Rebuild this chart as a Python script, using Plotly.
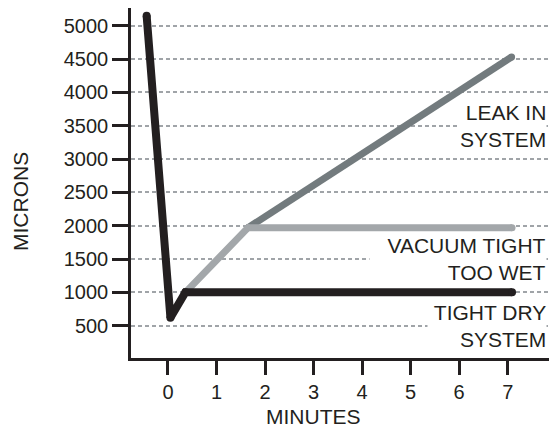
import plotly.graph_objects as go

# Pump-down curves: minutes vs microns
DRY_X = [-0.44, 0.05, 0.36, 7.09]
DRY_Y = [5150, 620, 1000, 1000]

WET_X = [0.36, 1.65, 7.09]
WET_Y = [1000, 1970, 1970]

LEAK_X = [1.65, 7.08]
LEAK_Y = [1970, 4530]

X_TICKS = [0, 1, 2, 3, 4, 5, 6, 7]
Y_TICKS = [500, 1000, 1500, 2000, 2500, 3000, 3500, 4000, 4500, 5000]

LABELS = [("LEAK IN", "SYSTEM"), ("VACUUM TIGHT", "TOO WET"), ("TIGHT DRY", "SYSTEM")]
LABEL_Y = [3500, 1500, 500]
# extra blank room on the left of each label box (hides the grid a bit further)
LABEL_PAD = [1, 3, 1]

INK = "#231f20"
FONT = "Liberation Sans, Arial, sans-serif"

fig = go.Figure()

# dark gray first, light gray over it, black on top
for xs, ys, color, width in [
    (LEAK_X, LEAK_Y, "#737b7e", 7),
    (WET_X, WET_Y, "#a3a7aa", 7),
    (DRY_X, DRY_Y, INK, 8),
]:
    fig.add_trace(go.Scatter(
        x=xs, y=ys, mode="lines+markers",
        line=dict(color=color, width=width),
        marker=dict(color=color, size=width, line=dict(width=0)),
        hoverinfo="skip", showlegend=False,
    ))

nbsp = "\u00a0"
for (top, bottom), y, pad in zip(LABELS, LABEL_Y, LABEL_PAD):
    if len(top) >= len(bottom):
        top = nbsp * pad + top
    else:
        bottom = nbsp * pad + bottom
    fig.add_annotation(
        text=top + "<br>" + bottom, x=1, xref="paper", y=y, yref="y",
        xanchor="right", yanchor="middle", align="right",
        showarrow=False, bgcolor="white", borderpad=0,
        xshift=-10, font=dict(size=21, color=INK, family=FONT),
    )

fig.add_annotation(text="MICRONS", x=-0.258, xref="paper", y=0.446, yref="paper",
                   xanchor="center", yanchor="middle", showarrow=False,
                   textangle=-90, font=dict(size=21, color=INK, family=FONT))
fig.add_annotation(text="MINUTES", x=3, xref="x", y=-0.167, yref="paper",
                   xanchor="center", yanchor="middle", showarrow=False,
                   font=dict(size=21, color=INK, family=FONT))

fig.update_xaxes(
    range=[-0.762, 8.016], tickvals=X_TICKS, showgrid=False, zeroline=False,
    showline=True, linecolor=INK, linewidth=2.5,
    ticks="outside", ticklen=14, tickwidth=2.5, tickcolor=INK,
    tickfont=dict(size=20, color=INK, family=FONT),
)
fig.update_yaxes(
    range=[15, 5265], tickvals=Y_TICKS, zeroline=False,
    showgrid=True, gridcolor="#a0a4a8", gridwidth=1.5, griddash="4px,3px",
    showline=True, linecolor=INK, linewidth=2.5,
    ticks="outside", ticklen=16, tickwidth=2.5, tickcolor=INK,
    tickfont=dict(size=20, color=INK, family=FONT),
)

# the page body adds 8px on the left and top, so the figure is 8px smaller
fig.update_layout(
    width=549, height=417,
    margin=dict(l=123, r=0, t=0, b=67),
    plot_bgcolor="white", paper_bgcolor="white",
    showlegend=False,
)

fig.write_html("out.html")
